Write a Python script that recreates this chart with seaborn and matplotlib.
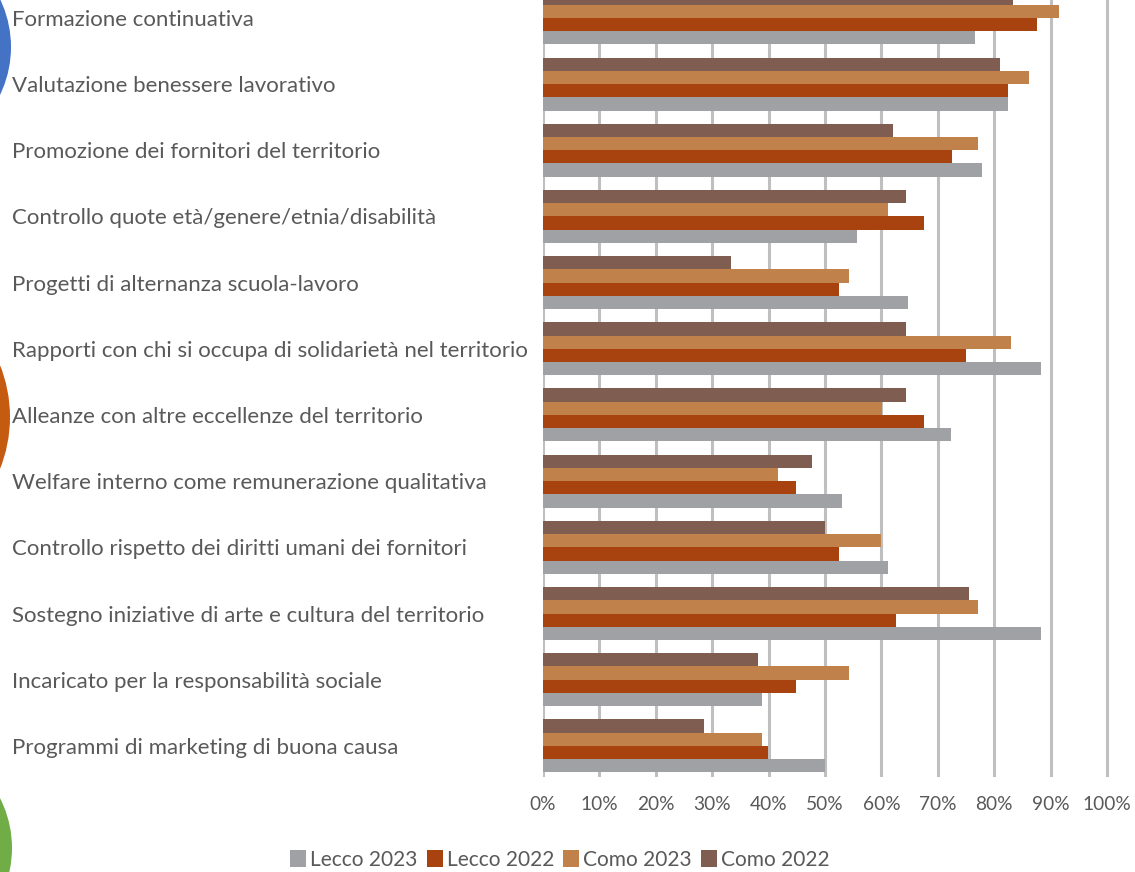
import matplotlib.pyplot as plt
import pandas as pd
import seaborn as sns
from matplotlib.patches import Circle, Patch

# categories, top to bottom
categories = [
    "Formazione continuativa",
    "Valutazione benessere lavorativo",
    "Promozione dei fornitori del territorio",
    "Controllo quote età/genere/etnia/disabilità",
    "Progetti di alternanza scuola-lavoro",
    "Rapporti con chi si occupa di solidarietà nel territorio",
    "Alleanze con altre eccellenze del territorio",
    "Welfare interno come remunerazione qualitativa",
    "Controllo rispetto dei diritti umani dei fornitori",
    "Sostegno iniziative di arte e cultura del territorio",
    "Incaricato per la responsabilità sociale",
    "Programmi di marketing di buona causa",
]

# percent values
lecco_2023 = [76.6, 82.4, 77.9, 55.6, 64.7, 88.3, 72.3, 53.0, 61.2, 88.3, 38.8, 50.0]
lecco_2022 = [87.6, 82.4, 72.5, 67.5, 52.5, 75.0, 67.5, 44.9, 52.5, 62.5, 44.9, 39.9]
como_2023 = [91.5, 86.2, 77.2, 61.2, 54.3, 82.9, 60.1, 41.6, 59.9, 77.2, 54.3, 38.8]
como_2022 = [83.4, 81.0, 62.0, 64.3, 33.3, 64.3, 64.3, 47.7, 50.0, 75.6, 38.1, 28.6]

series_names = ["Lecco 2023", "Lecco 2022", "Como 2023", "Como 2022"]
series_values = [lecco_2023, lecco_2022, como_2023, como_2022]
colors = {
    "Lecco 2023": "#A0A1A4",
    "Lecco 2022": "#A8430F",
    "Como 2023": "#C0814A",
    "Como 2022": "#7F5D50",
}
tick_values = list(range(0, 101, 10))

W, H, DPI = 1135, 872, 100
TEXT_COLOR = "#595959"
FS_CAT = 16
FS_TICK = 13.8
FS_LEG = 15

sns.set_theme(style="white")
plt.rcParams["font.family"] = ["Lato", "DejaVu Sans"]

rows = []
for name, values in zip(series_names, series_values):
    for cat, val in zip(categories, values):
        rows.append({"categoria": cat, "valore": val, "serie": name})
df = pd.DataFrame(rows)

fig = plt.figure(figsize=(W / DPI, H / DPI), dpi=DPI)
ax_left, ax_right, ax_bottom = 543, 1112, 777
ax = fig.add_axes([ax_left / W, (H - ax_bottom) / H, (ax_right - ax_left) / W, ax_bottom / H])

# Excel draws the first series at the bottom of each group
sns.barplot(
    data=df,
    y="categoria",
    x="valore",
    hue="serie",
    hue_order=series_names[::-1],
    order=categories,
    palette=colors,
    orient="h",
    width=0.8,
    saturation=1,
    linewidth=0,
    legend=False,
    ax=ax,
    zorder=3,
)

ax.set_xlim(0, (ax_right - ax_left) / 564 * 100)
ax.set_ylim(11.47, -0.27)
ax.set_xticks(tick_values)
ax.set_xticklabels([f"{v}%" for v in tick_values])
ax.set_xlabel("")
ax.set_ylabel("")
for side in ["top", "right", "bottom", "left"]:
    ax.spines[side].set_visible(False)
ax.grid(axis="x", color="#BFBFBF", linewidth=2.2, zorder=0)
ax.grid(axis="y", visible=False)
ax.set_axisbelow(True)

ax.tick_params(axis="x", length=0, pad=14, labelsize=FS_TICK, labelcolor=TEXT_COLOR)
ax.tick_params(axis="y", length=0, pad=(ax_left - 12) * 72 / DPI, labelsize=FS_CAT, labelcolor=TEXT_COLOR)
for label in ax.get_yticklabels():
    label.set_horizontalalignment("left")

handles = [Patch(facecolor=colors[name], edgecolor="none", label=name) for name in series_names]
fig.legend(
    handles=handles,
    loc="center",
    bbox_to_anchor=(560 / W, 12 / H),
    ncol=4,
    frameon=False,
    fontsize=FS_LEG,
    labelcolor=TEXT_COLOR,
    handlelength=0.75,
    handleheight=0.85,
    handletextpad=0.2,
    columnspacing=0.45,
)

# decorative circles cut by the left edge
for cx, cy, r, col in [(-99, 47, 110, "#4472C4"), (-130, 417, 140, "#C55A11"), (-98, 848, 110, "#70AD47")]:
    fig.add_artist(Circle((cx, H - cy), r, transform=None, facecolor=col, edgecolor="none"))

fig.savefig("out.png", dpi=DPI)
